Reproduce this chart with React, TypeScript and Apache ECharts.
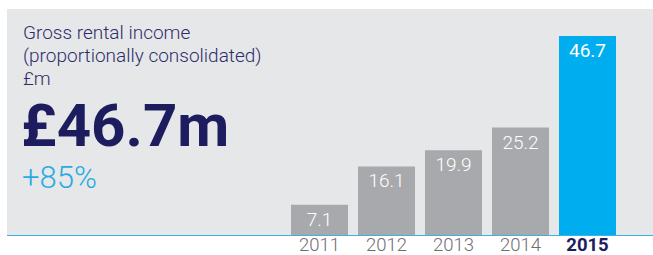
import React, { useEffect, useRef } from "react";
import * as echarts from "echarts";

const years = ["2011", "2012", "2013", "2014", "2015"];
const values = [7.1, 16.1, 19.9, 25.2, 46.7];
const titleLines = ["Gross rental income", "(proportionally consolidated)", "£m"];
const headline = "£46.7m";
const change = "+85%";

const NAVY = "#1d1c5e";
const GRAY_BAR = "#a7a9ac";
const BLUE = "#00aeef";
const FONT = "Roboto, 'Liberation Sans', sans-serif";

export default function App() {
  const ref = useRef<HTMLDivElement>(null);
  useEffect(() => {
    if (!ref.current) return;
    const chart = echarts.init(ref.current, undefined, { renderer: "svg" });
    const last = years.length - 1;
    chart.setOption({
      animation: false,
      grid: { left: 286, width: 335, top: 36, bottom: 20 },
      xAxis: {
        type: "category",
        data: years,
        axisLine: { show: false },
        axisTick: { show: false },
        axisLabel: {
          interval: 0,
          margin: 1,
          fontSize: 18.5,
          lineHeight: 18,
          fontFamily: FONT,
          fontWeight: 300,
          color: "#6d6e71",
          formatter: (v: string, i: number) => (i === last ? `{b|${v}}` : v),
          rich: {
            b: { fontSize: 18.5, lineHeight: 18, fontFamily: FONT, fontWeight: "bold", color: NAVY },
          },
        },
      },
      yAxis: { type: "value", min: 0, max: 46.7, show: false, splitLine: { show: false } },
      graphic: [
        {
          type: "rect",
          z: -10,
          silent: true,
          shape: { x: 7, y: 9, width: 646, height: 226 },
          style: { fill: "#e6e7e8" },
        },
        {
          type: "line",
          z: 10,
          silent: true,
          shape: { x1: 7, y1: 235.5, x2: 653, y2: 235.5 },
          style: { stroke: "#3fb0e5", lineWidth: 1 },
        },
        ...titleLines.map((t, i) => ({
          type: "text",
          left: 23,
          top: 23 + i * 23,
          style: { text: t, fontSize: 19, fontFamily: FONT, fontWeight: 300, fill: "#2e2d6b" },
        })),
        {
          type: "text",
          left: 21,
          top: 95,
          style: { text: headline, fontSize: 60, fontFamily: FONT, fontWeight: "bold", fill: NAVY },
        },
        {
          type: "text",
          left: 22,
          top: 162,
          style: { text: change, fontSize: 31, fontFamily: FONT, fontWeight: 300, fill: "#29abe2" },
        },
      ],
      series: [
        {
          type: "bar",
          barWidth: 57,
          data: values.map((v, i) => ({
            value: v,
            itemStyle: { color: i === last ? BLUE : GRAY_BAR },
            label: { fontWeight: i === last ? "normal" : 300 },
          })),
          label: {
            show: true,
            position: "insideTop",
            distance: 5,
            fontSize: 19,
            fontFamily: FONT,
            fontWeight: 300,
            color: "#ffffff",
          },
        },
      ],
    });
    return () => chart.dispose();
  }, []);
  return (
    <div
      ref={ref}
      style={{ position: "absolute", left: 0, top: 0, width: 653, height: 255 }}
    />
  );
}
